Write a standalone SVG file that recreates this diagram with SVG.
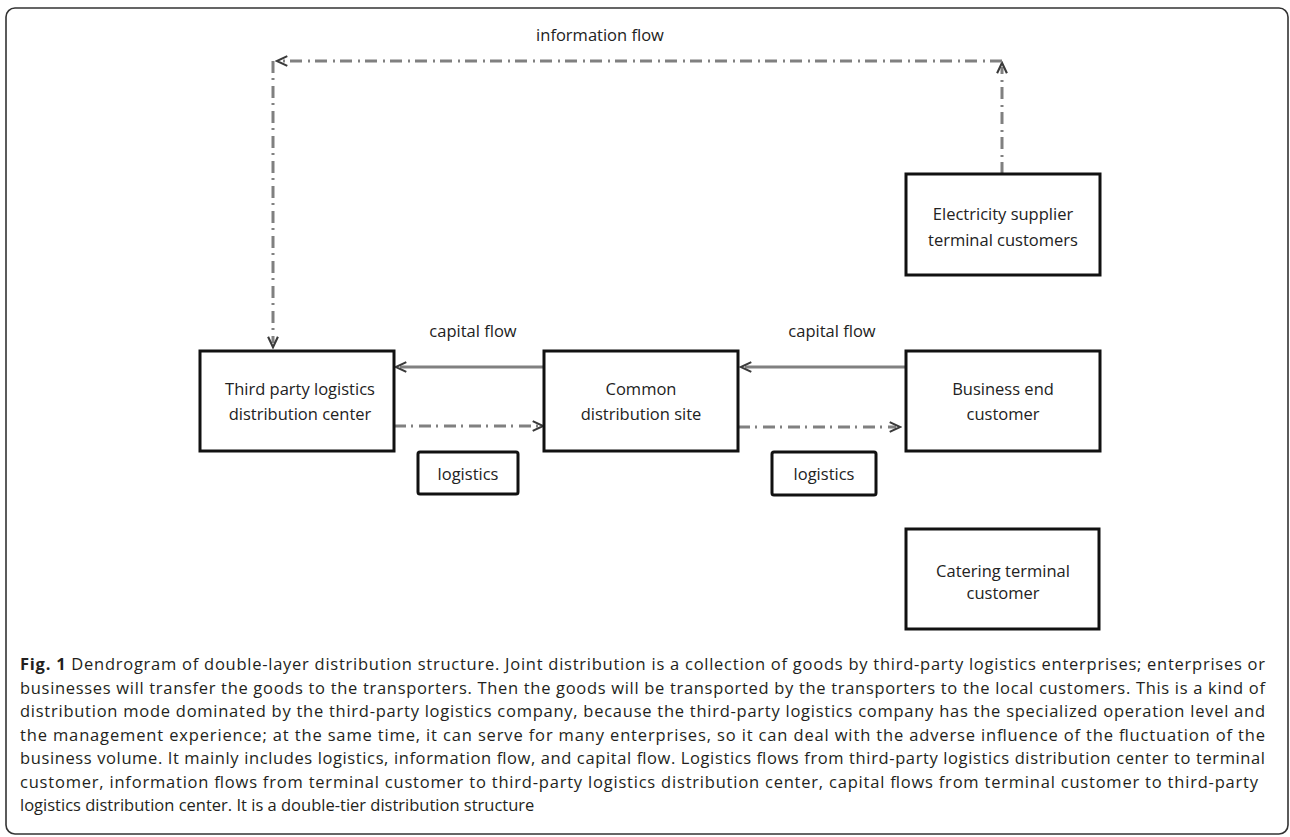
<svg xmlns="http://www.w3.org/2000/svg" width="1290" height="837" viewBox="0 0 1290 837">
<style>
.frame{fill:none;stroke:#333;stroke-width:1.6}
.box{fill:#fff;stroke:#111;stroke-width:3}
.lbox{fill:#fff;stroke:#111;stroke-width:3}
.t{font-family:"Open Sans","Noto Sans","Liberation Sans",sans-serif;font-size:16.5px;fill:#222;text-anchor:middle;dominant-baseline:central}
.solid{fill:none;stroke:#808080;stroke-width:3}
.dd{fill:none;stroke:#808080;stroke-width:3;stroke-dasharray:12 5 2 6}
.cap{font-family:"Open Sans","Noto Sans","Liberation Sans",sans-serif;font-size:16.5px;fill:#231f20}
</style>
<defs>
<marker id="ah" markerUnits="userSpaceOnUse" markerWidth="14" markerHeight="14" viewBox="0 0 10 10" refX="6" refY="5" orient="auto">
<path d="M1.5,1.5 L9,5 L1.5,8.5" fill="none" stroke="#3a3a3a" stroke-width="1.5"/>
</marker>
</defs>
<rect class="frame" x="6" y="8" width="1282" height="826" rx="9"/>

<g id="connectors">
<line class="dd" x1="1002" y1="174" x2="1002" y2="67" marker-end="url(#ah)"/>
<line class="dd" x1="1002" y1="61" x2="281" y2="61" marker-end="url(#ah)"/>
<line class="dd" x1="273" y1="61" x2="273" y2="343" marker-end="url(#ah)"/>
<line class="solid" x1="544" y1="367" x2="400" y2="367" marker-end="url(#ah)"/>
<line class="solid" x1="906" y1="367" x2="745" y2="367" marker-end="url(#ah)"/>
<line class="dd" x1="394" y1="426" x2="539" y2="426" marker-end="url(#ah)"/>
<line class="dd" x1="738" y1="427" x2="896" y2="427" marker-end="url(#ah)"/>
<text class="t" x="600" y="34">information flow</text>
<text class="t" x="473" y="330">capital flow</text>
<text class="t" x="832" y="330">capital flow</text>
</g>

<g id="electricity">
<rect class="box" x="906" y="174" width="194" height="101"/>
<text class="t" x="1003" y="213">Electricity supplier</text>
<text class="t" x="1003" y="239">terminal customers</text>
</g>
<g id="thirdparty">
<rect class="box" x="200" y="351" width="194" height="100"/>
<text class="t" x="300" y="388">Third party logistics</text>
<text class="t" x="300" y="413">distribution center</text>
</g>
<g id="common">
<rect class="box" x="544" y="351" width="194" height="100"/>
<text class="t" x="641" y="388">Common</text>
<text class="t" x="641" y="413">distribution site</text>
</g>
<g id="business">
<rect class="box" x="906" y="351" width="194" height="100"/>
<text class="t" x="1003" y="388">Business end</text>
<text class="t" x="1003" y="413">customer</text>
</g>
<g id="logistics1">
<rect class="lbox" x="418" y="452" width="100" height="42" rx="2"/>
<text class="t" x="468" y="473">logistics</text>
</g>
<g id="logistics2">
<rect class="lbox" x="772" y="452" width="104" height="43" rx="2"/>
<text class="t" x="824" y="473">logistics</text>
</g>
<g id="catering">
<rect class="box" x="906" y="529" width="193" height="100"/>
<text class="t" x="1003" y="570">Catering terminal</text>
<text class="t" x="1003" y="592">customer</text>
</g>

<g id="caption">
<text class="cap" x="20" y="670" textLength="1245" lengthAdjust="spacing"><tspan font-weight="bold">Fig. 1</tspan> Dendrogram of double-layer distribution structure. Joint distribution is a collection of goods by third-party logistics enterprises; enterprises or</text>
<text class="cap" x="20" y="693.5" textLength="1245" lengthAdjust="spacing">businesses will transfer the goods to the transporters. Then the goods will be transported by the transporters to the local customers. This is a kind of</text>
<text class="cap" x="20" y="717" textLength="1245" lengthAdjust="spacing">distribution mode dominated by the third-party logistics company, because the third-party logistics company has the specialized operation level and</text>
<text class="cap" x="20" y="740.5" textLength="1245" lengthAdjust="spacing">the management experience; at the same time, it can serve for many enterprises, so it can deal with the adverse influence of the fluctuation of the</text>
<text class="cap" x="20" y="764" textLength="1245" lengthAdjust="spacing">business volume. It mainly includes logistics, information flow, and capital flow. Logistics flows from third-party logistics distribution center to terminal</text>
<text class="cap" x="20" y="787.5" textLength="1238" lengthAdjust="spacing">customer, information flows from terminal customer to third-party logistics distribution center, capital flows from terminal customer to third-party</text>
<text class="cap" x="20" y="811">logistics distribution center. It is a double-tier distribution structure</text>
</g>
</svg>
